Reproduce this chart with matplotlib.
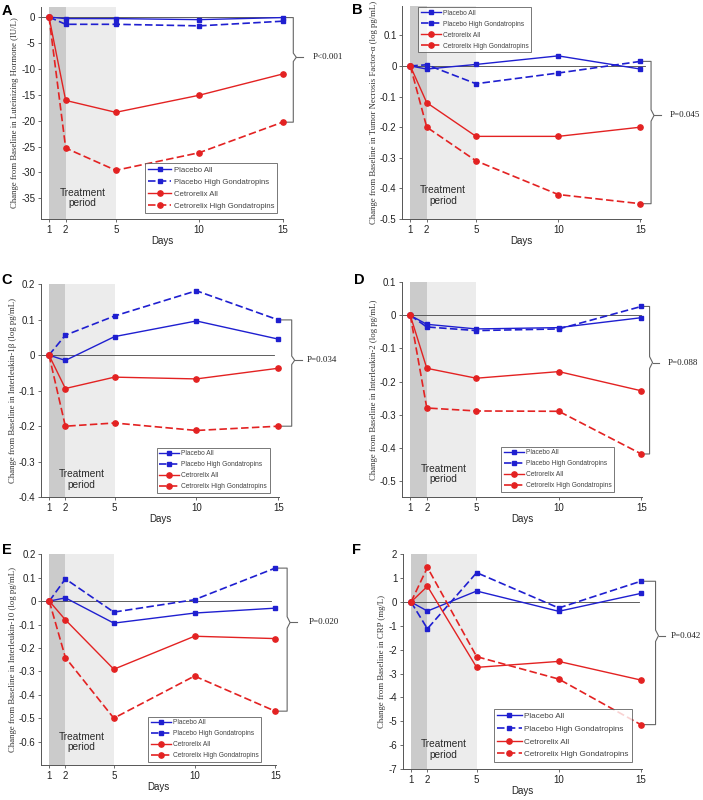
import numpy as np
import matplotlib
matplotlib.use('Agg')
import matplotlib.pyplot as plt

# ---- data ----
days = [1, 2, 5, 10, 15]
series_names = ['Placebo All', 'Placebo High Gondatropins',
                'Cetrorelix All', 'Cetrorelix High Gondatropins']

lh_plac_all = [0, -0.3, -0.3, -0.5, -0.1]
lh_plac_high = [0, -1.4, -1.4, -1.7, -0.8]
lh_cet_all = [0, -16.1, -18.4, -15.1, -11.0]
lh_cet_high = [0, -25.3, -29.6, -26.2, -20.3]

tnf_plac_all = [0, -0.01, 0.005, 0.033, -0.01]
tnf_plac_high = [0, 0.004, -0.058, -0.023, 0.015]
tnf_cet_all = [0, -0.12, -0.23, -0.23, -0.20]
tnf_cet_high = [0, -0.20, -0.31, -0.42, -0.45]

il1_plac_all = [0, -0.015, 0.052, 0.096, 0.045]
il1_plac_high = [0, 0.056, 0.11, 0.181, 0.099]
il1_cet_all = [0, -0.094, -0.062, -0.067, -0.037]
il1_cet_high = [0, -0.20, -0.191, -0.212, -0.20]

il2_plac_all = [0, -0.027, -0.041, -0.037, -0.007]
il2_plac_high = [0, -0.035, -0.046, -0.041, 0.027]
il2_cet_all = [0, -0.16, -0.19, -0.17, -0.228]
il2_cet_high = [0, -0.28, -0.289, -0.29, -0.419]

il10_plac_all = [0, 0.014, -0.094, -0.051, -0.03]
il10_plac_high = [0, 0.095, -0.047, 0.006, 0.141]
il10_cet_all = [0, -0.08, -0.291, -0.15, -0.16]
il10_cet_high = [0, -0.241, -0.50, -0.32, -0.47]

crp_plac_all = [0, -0.38, 0.46, -0.39, 0.36]
crp_plac_high = [0, -1.12, 1.23, -0.25, 0.87]
crp_cet_all = [0, 0.66, -2.74, -2.49, -3.27]
crp_cet_high = [0, 1.45, -2.29, -3.23, -5.14]

letters = ['A', 'B', 'C', 'D', 'E', 'F']
ylabels = ['Change from Baseline in Luteinizing Hormone (IU/L)',
           'Change from Baseline in Tumor Necrosis Factor-\u03b1 (log pg/mL)',
           'Change from Baseline in Interleukin-1\u03b2 (log pg/mL)',
           'Change from Baseline in Interleukin-2 (log pg/mL)',
           'Change from Baseline in Interleukin-10 (log pg/mL)',
           'Change from Baseline in CRP (mg/L)']
pvals = ['P<0.001', 'P=0.045', 'P=0.034', 'P=0.088', 'P=0.020', 'P=0.042']
yticks = [[0, -5, -10, -15, -20, -25, -30, -35],
          [0.1, 0, -0.1, -0.2, -0.3, -0.4, -0.5],
          [0.2, 0.1, 0, -0.1, -0.2, -0.3, -0.4],
          [0.1, 0, -0.1, -0.2, -0.3, -0.4, -0.5],
          [0.2, 0.1, 0, -0.1, -0.2, -0.3, -0.4, -0.5, -0.6],
          [2, 1, 0, -1, -2, -3, -4, -5, -6, -7]]
ylims = [(-39, 2), (-0.5, 0.195), (-0.4, 0.2), (-0.55, 0.1), (-0.7, 0.2), (-7, 2)]

panels = [(lh_plac_all, lh_plac_high, lh_cet_all, lh_cet_high),
          (tnf_plac_all, tnf_plac_high, tnf_cet_all, tnf_cet_high),
          (il1_plac_all, il1_plac_high, il1_cet_all, il1_cet_high),
          (il2_plac_all, il2_plac_high, il2_cet_all, il2_cet_high),
          (il10_plac_all, il10_plac_high, il10_cet_all, il10_cet_high),
          (crp_plac_all, crp_plac_high, crp_cet_all, crp_cet_high)]

# ---- layout (pixels) ----
W, H = 703, 800
# left, width, top, bottom
rects = [(40.65, 242.8, 6.7, 219), (402.1, 239.1, 6.3, 219),
         (40.8, 238.3, 284, 497.3), (402.05, 240.1, 282.3, 497.3),
         (41.2, 234.8, 554.3, 765), (402.8, 238.8, 554.3, 769)]
letter_pos = [(2, 4), (352, 3), (1, 273), (354, 273), (2, 543), (352, 543)]
legend_pos = [(145, 163), (418, 7), (156.7, 447.7), (501, 446.7), (148.3, 716.7), (493.7, 709.3)]
legend_fs = [5.6, 4.8, 4.8, 4.8, 4.8, 5.9]
brace_dx = [0.64, 0.65, 0.82, 0.5, 0.74, 0.9]
ptext_dx = [1.8, 1.8, 1.73, 1.6, 2.1, 1.85]
zero_end = [15, 15.3, 14.75, 15, 14.75, 14.9]
treat_y = [0.099, 0.111, 0.083, 0.108, 0.109, 0.09]

blue = '#1f1fd0'
red = '#e32222'
grey = '#666666'

fig = plt.figure(figsize=(W / 100, H / 100), dpi=100)

for i in range(6):
    l, w, t, b = rects[i]
    ax = fig.add_axes([l / W, 1 - b / H, w / W, (b - t) / H])
    y0, y1 = ylims[i]
    ax.set_xlim(0.5, 15.05)
    ax.set_ylim(y0, y1)

    # treatment period shading
    ax.axvspan(1, 2, color='#cbcbcb', lw=0, zorder=0)
    ax.axvspan(2, 5, color='#ececec', lw=0, zorder=0)
    ax.text(3.0, treat_y[i], 'Treatment\nperiod', transform=ax.get_xaxis_transform(),
            ha='center', va='center', fontsize=7.3, color='#2a2a2a',
            family=['Liberation Sans Narrow', 'Liberation Sans'], linespacing=1.1)

    ax.plot([0.5, zero_end[i]], [0, 0], color='#444444', lw=0.6, zorder=1, clip_on=False)

    pa, ph, ca, ch = panels[i]
    ax.plot(days, pa, '-', color=blue, lw=1.0, marker='s', ms=3.4, label=series_names[0], clip_on=False, zorder=3)
    ax.plot(days, ph, '--', color=blue, lw=1.2, marker='s', ms=3.4, dashes=(4.5, 2), label=series_names[1], clip_on=False, zorder=3)
    ax.plot(days, ca, '-', color=red, lw=1.0, marker='o', ms=3.8, label=series_names[2], clip_on=False, zorder=3)
    ax.plot(days, ch, '--', color=red, lw=1.2, marker='o', ms=3.8, dashes=(4.5, 2), label=series_names[3], clip_on=False, zorder=3)

    # brace at the right
    last = [pa[-1], ph[-1], ca[-1], ch[-1]]
    top, bot = max(last), min(last)
    xv = 15 + brace_dx[i]
    ym = top - 0.38 * (top - bot)
    d = 0.04 * (top - bot)
    ax.plot([15.12, xv, xv, xv + 0.18, xv, xv, 15.12],
            [top, top, ym + d, ym, ym - d, bot, bot], color=grey, lw=0.8, clip_on=False)
    ax.plot([xv + 0.18, xv + 0.6], [ym, ym], color=grey, lw=0.8, clip_on=False)
    ax.text(15 + ptext_dx[i], ym, pvals[i], ha='left', va='center', fontsize=6.5,
            family='Liberation Serif', color='#222222', clip_on=False)

    for s in ['top', 'right']:
        ax.spines[s].set_visible(False)
    for s in ['left', 'bottom']:
        ax.spines[s].set_color('#555555')
        ax.spines[s].set_linewidth(0.7)
    ax.set_xticks(days)
    ax.set_yticks(yticks[i])
    ax.set_yticklabels([('%g' % v) for v in yticks[i]])
    ax.tick_params(direction='out', length=2, width=0.6, colors='#555555', labelcolor='#222222',
                   labelsize=7, pad=2)
    for lab in ax.get_xticklabels() + ax.get_yticklabels():
        lab.set_family('Liberation Sans')
    ax.set_xlabel('Days', fontsize=7, family='Liberation Sans', color='#222222', labelpad=1)
    ax.set_ylabel(ylabels[i], fontsize=6.3, family='Liberation Serif', color='#333333', labelpad=1.5)

    lx, ly = legend_pos[i]
    leg = ax.legend(loc='upper left', bbox_to_anchor=(lx / W, 1 - ly / H), bbox_transform=fig.transFigure,
                    frameon=True, fancybox=False, edgecolor='#555555',
                    handlelength=3.0, handletextpad=0.3, labelspacing=0.6, borderpad=0.4,
                    borderaxespad=0, prop={'family': 'Liberation Sans', 'size': legend_fs[i]})
    leg.get_frame().set_linewidth(0.7)
    for txt in leg.get_texts():
        txt.set_color('#444444')

    fig.text(letter_pos[i][0] / W, 1 - letter_pos[i][1] / H, letters[i], ha='left', va='top',
             fontsize=10.5, fontweight='bold', family='Liberation Sans')

fig.savefig('out.png', dpi=100)
